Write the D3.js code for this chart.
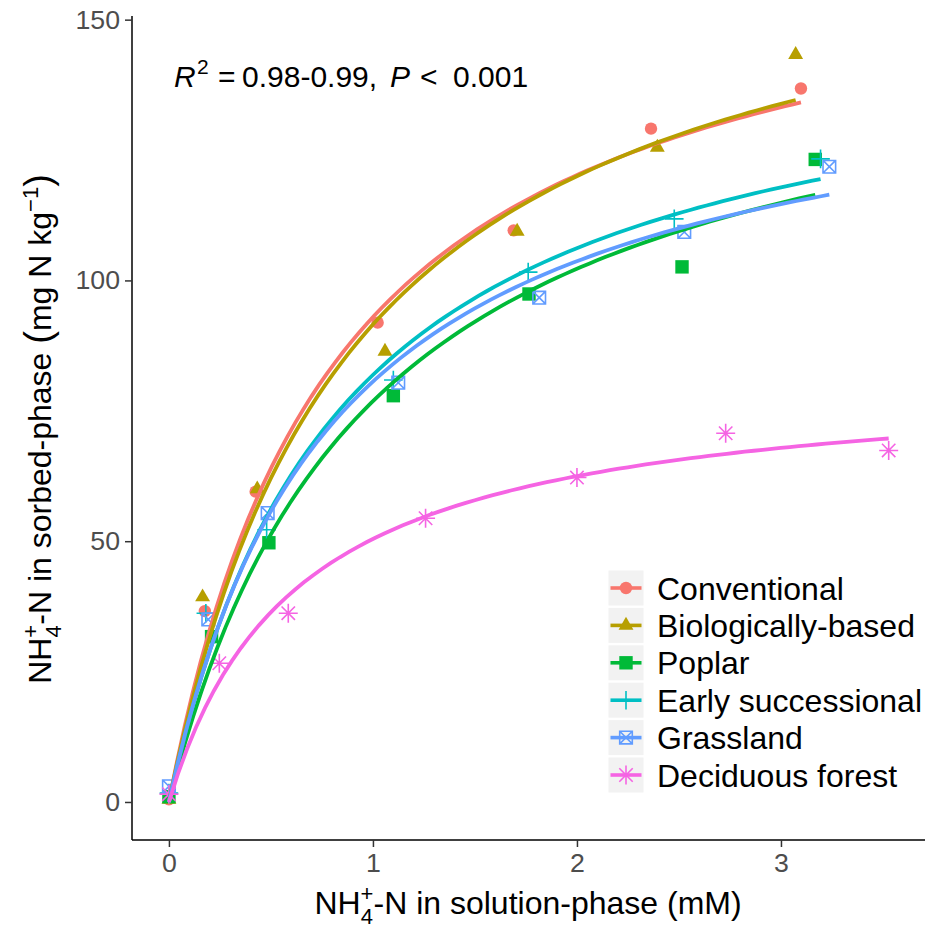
<!DOCTYPE html>
<html><head><meta charset="utf-8">
<script src="https://cdn.jsdelivr.net/npm/d3@7"></script>
<style>
body{margin:0;background:#fff}
svg{display:block}
text{font-family:"Liberation Sans",Arial,Helvetica,sans-serif}
</style>
</head><body>
<svg id="chart" width="930" height="930"></svg>
<script>
// ---- data ----
const categories = ["Conventional","Biologically-based","Poplar","Early successional","Grassland","Deciduous forest"];
const colors = ["#F8766D","#B79F00","#00BA38","#00BFC4","#619CFF","#F564E3"];
const shapes = ["circle","triangle","square","plus","squareCross","asterisk"];

const solutionConventional = [0, 0.176, 0.425, 1.023, 1.69, 2.363, 3.098];
const sorbedConventional   = [0.5, 36.6, 59.5, 91.9, 109.6, 129.1, 136.8];
const solutionBiological   = [0, 0.165, 0.433, 1.059, 1.707, 2.394, 3.072];
const sorbedBiological     = [0.5, 39.3, 60.0, 86.4, 109.4, 125.5, 143.3];
const solutionPoplar       = [0, 0.209, 0.49, 1.10, 1.765, 2.515, 3.168];
const sorbedPoplar         = [1.0, 31.7, 49.7, 77.9, 97.4, 102.6, 123.2];
const solutionEarly        = [0, 0.181, 0.479, 1.10, 1.761, 2.477, 3.194];
const sorbedEarly          = [1.7, 36.2, 52.2, 80.9, 101.6, 111.8, 123.3];
const solutionGrassland    = [0, 0.193, 0.484, 1.124, 1.815, 2.526, 3.237];
const sorbedGrassland      = [3.0, 35.0, 55.4, 80.4, 96.7, 109.3, 121.8];
const solutionDeciduous    = [0, 0.247, 0.585, 1.258, 2.0, 2.729, 3.528];
const sorbedDeciduous      = [1.5, 26.6, 36.2, 54.4, 62.2, 70.7, 67.4];

// Langmuir fit parameters (Smax, K)
const fitSmax = [170.0, 174.1, 152.7, 151.0, 145.3, 82.1];
const fitK    = [1.207, 1.109, 1.013, 1.185, 1.246, 1.592];

const xTicks = [0, 1, 2, 3];
const yTicks = [0, 50, 100, 150];

const solutionSeries = [solutionConventional, solutionBiological, solutionPoplar, solutionEarly, solutionGrassland, solutionDeciduous];
const sorbedSeries   = [sorbedConventional, sorbedBiological, sorbedPoplar, sorbedEarly, sorbedGrassland, sorbedDeciduous];

// ---- chart ----
const svg = d3.select("#chart");
const x = d3.scaleLinear().domain([-0.181, 3.706]).range([132, 925]);
const y = d3.scaleLinear().domain([-7.29, 150.7]).range([840, 16]);

function drawShape(g, shape, color){
  if(shape==="circle"){
    g.append("circle").attr("r",6.2).attr("fill",color);
  } else if(shape==="triangle"){
    const r=8.6;
    g.append("path").attr("d",`M0,${-r}L${r*0.866},${r/2}L${-r*0.866},${r/2}Z`).attr("fill",color);
  } else if(shape==="square"){
    g.append("rect").attr("x",-6.7).attr("y",-6.7).attr("width",13.4).attr("height",13.4).attr("fill",color);
  } else if(shape==="plus"){
    g.append("path").attr("d","M-9.3,0H9.3M0,-9.3V9.3").attr("stroke",color).attr("stroke-width",1.6).attr("fill","none");
  } else if(shape==="squareCross"){
    g.append("path").attr("d","M-6.3,-6.3H6.3V6.3H-6.3ZM-6.3,-6.3L6.3,6.3M6.3,-6.3L-6.3,6.3").attr("stroke",color).attr("stroke-width",1.6).attr("fill","none");
  } else if(shape==="asterisk"){
    g.append("path").attr("d","M-9.5,0H9.5M0,-9.5V9.5M-6.7,-6.7L6.7,6.7M6.7,-6.7L-6.7,6.7").attr("stroke",color).attr("stroke-width",1.6).attr("fill","none");
  }
}

// points
categories.forEach((c,i)=>{
  const g = svg.append("g");
  solutionSeries[i].forEach((xv,j)=>{
    const pg = g.append("g").attr("transform",`translate(${x(xv)},${y(sorbedSeries[i][j])})`);
    drawShape(pg, shapes[i], colors[i]);
  });
});

// fitted curves
const line = d3.line().x(d=>x(d[0])).y(d=>y(d[1]));
categories.forEach((c,i)=>{
  const xmax = d3.max(solutionSeries[i]);
  const pts = d3.range(0,81).map(k=>{const xv = xmax*k/80; return [xv, fitSmax[i]*fitK[i]*xv/(1+fitK[i]*xv)];});
  svg.append("path").datum(pts).attr("d",line).attr("fill","none")
     .attr("stroke",colors[i]).attr("stroke-width",3.8).attr("stroke-linecap","butt");
});

// axes
const yAxis = svg.append("g").attr("transform","translate(132,0)")
  .call(d3.axisLeft(y).tickValues(yTicks).tickFormat(d3.format("d")).tickSize(7).tickSizeOuter(0).tickPadding(5));
const xAxis = svg.append("g").attr("transform","translate(0,840)")
  .call(d3.axisBottom(x).tickValues(xTicks).tickFormat(d3.format("d")).tickSize(7).tickSizeOuter(0).tickPadding(6));
[xAxis,yAxis].forEach(a=>{
  a.select(".domain").attr("stroke","#000").attr("stroke-width",1.5);
  a.selectAll(".tick line").attr("stroke","#333").attr("stroke-width",1.5);
  a.selectAll(".tick text").attr("fill","#4D4D4D").attr("font-size","26.7px")
   .attr("font-family",'"Liberation Sans",Arial,sans-serif');
});
yAxis.select(".domain").attr("d","M0,16V840");
xAxis.select(".domain").attr("d","M132,0H925");

// x title
const fs = 32, sm = 22;
const xt = svg.append("text").attr("x",528).attr("y",914).attr("text-anchor","middle")
  .attr("font-size",fs+"px").attr("fill","#000");
xt.append("tspan").text("NH");
xt.append("tspan").attr("font-size",sm+"px").attr("dy",-13).text("+");
xt.append("tspan").attr("font-size",sm+"px").attr("dx",-12.8).attr("dy",23).text("4");
xt.append("tspan").attr("dx",0.6).attr("dy",-10).text("-N in solution-phase (mM)");

// y title
const yt = svg.append("text").attr("transform","translate(51,429) rotate(-90)").attr("text-anchor","middle")
  .attr("font-size",fs+"px").attr("fill","#000");
yt.append("tspan").text("NH");
yt.append("tspan").attr("font-size",sm+"px").attr("dy",-13).text("+");
yt.append("tspan").attr("font-size",sm+"px").attr("dx",-12.8).attr("dy",23).text("4");
yt.append("tspan").attr("dx",0.6).attr("dy",-10).text("-N in sorbed-phase ");
yt.append("tspan").attr("font-size","38px").text("(");
yt.append("tspan").text("mg N kg");
yt.append("tspan").attr("font-size",sm+"px").attr("dy",-13).text("\u22121");
yt.append("tspan").attr("font-size","38px").attr("dy",13).text(")");

// annotation
const an = svg.append("text").attr("y",87).attr("font-size","30px").attr("fill","#000");
an.append("tspan").attr("x",174).attr("font-style","italic").text("R");
an.append("tspan").attr("x",197).attr("y",74).attr("font-size","21px").text("2");
an.append("tspan").attr("x",218).attr("y",87).text("=");
an.append("tspan").attr("x",242).text("0.98-0.99,");
an.append("tspan").attr("x",390).attr("font-style","italic").text("P");
an.append("tspan").attr("x",420).text("<");
an.append("tspan").attr("x",453).text("0.001");

// legend
const legRowY = d3.range(categories.length).map(i=>588 + i*37.4);
const leg = svg.append("g");
categories.forEach((c,i)=>{
  const cy = legRowY[i];
  leg.append("rect").attr("x",608.5).attr("y",cy-17.5).attr("width",35).attr("height",35).attr("fill","#F2F2F2");
  leg.append("line").attr("x1",610.5).attr("x2",641.5).attr("y1",cy).attr("y2",cy)
     .attr("stroke",colors[i]).attr("stroke-width",3.6);
  const pg = leg.append("g").attr("transform",`translate(626,${cy})`);
  drawShape(pg, shapes[i], colors[i]);
  leg.append("text").attr("x",657).attr("y",cy+11.5).attr("font-size","32px").attr("fill","#000").text(c);
});
</script>
</body></html>
